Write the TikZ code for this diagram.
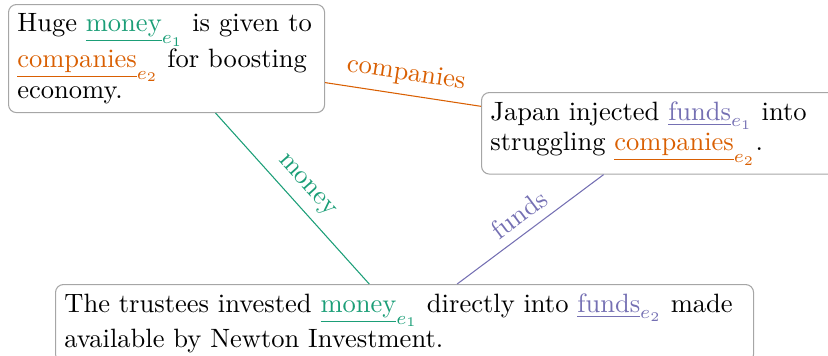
\documentclass[tikz,border=0pt]{standalone}
\usepackage{amsmath}
\definecolor{cgreen}{HTML}{1B9E77}
\definecolor{corange}{HTML}{D95F02}
\definecolor{cpurple}{HTML}{7570B3}
\newcommand{\ent}[3]{\textcolor{#1}{$\underline{\text{#2}}_{#3}$}}
\begin{document}
\setlength{\lineskiplimit}{-100pt}
\begin{tikzpicture}[x=0.377pt, y=-0.377pt,
  sentbox/.style={draw=black!35, rounded corners=3pt, align=left, anchor=north west, inner sep=0.333em,
    font=\fontsize{10pt}{11.6pt}\selectfont},
  rel/.style={line width=0.4pt}]
\useasboundingbox (0,0) rectangle (828,356);
\clip (0,0) rectangle (828,356);
\node[sentbox, text width=112.5pt] (s1) at (8,4)
  {Huge \ent{cgreen}{money}{e_1} is given to \ent{corange}{companies}{e_2} for boosting economy.};
\node[sentbox, text width=127pt] (s2) at (481,92)
  {Japan injected \ent{cpurple}{funds}{e_1} into struggling \ent{corange}{companies}{e_2}.};
\node[sentbox, text width=256.5pt] (s3) at (55,284)
  {The trustees invested \ent{cgreen}{money}{e_1} directly into \ent{cpurple}{funds}{e_2} made available by Newton Investment.};
\draw[rel, corange] (s1) -- node[above, sloped] {companies} (s2);
\draw[rel, cgreen] (s1) -- node[above, sloped] {money} (s3);
\draw[rel, cpurple] (s3) -- node[above, sloped] {funds} (s2);
\end{tikzpicture}
\end{document}
